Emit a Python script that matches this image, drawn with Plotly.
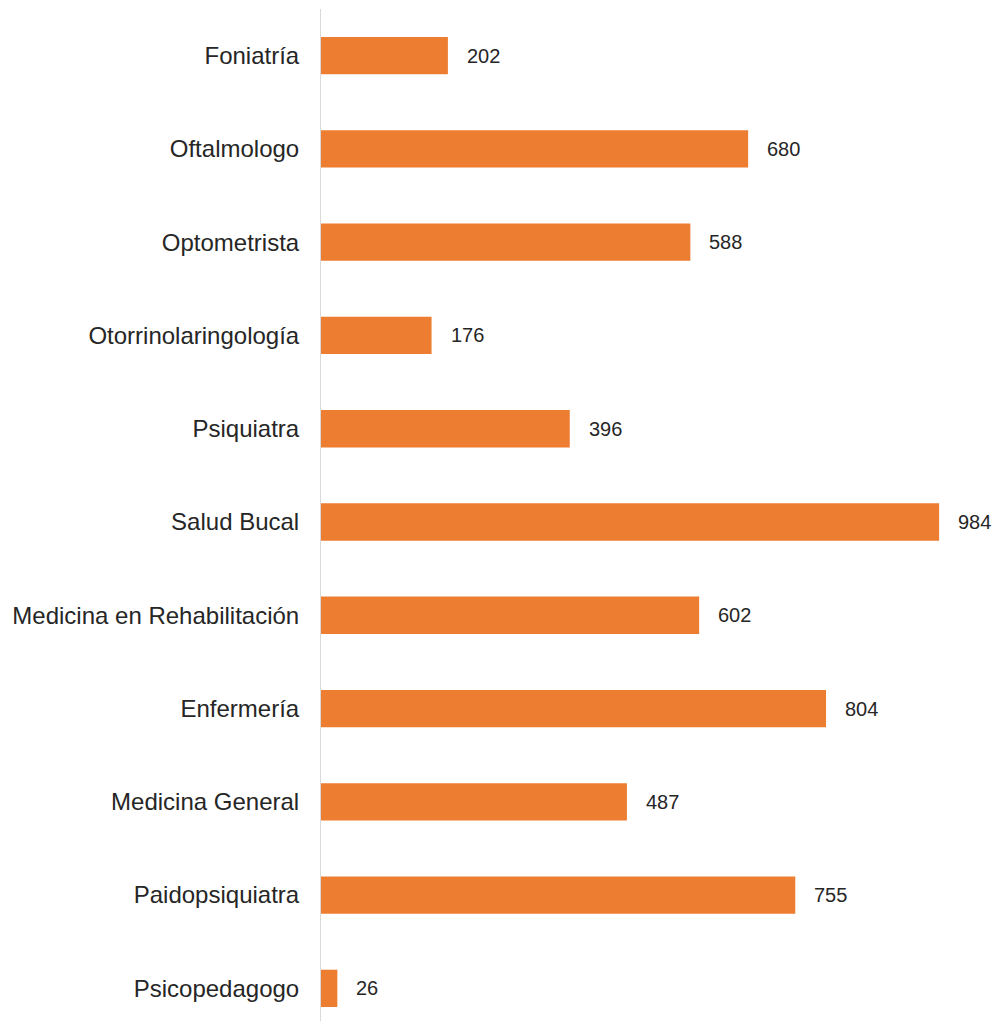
import plotly.graph_objects as go

categories = [
    "Foniatría",
    "Oftalmologo",
    "Optometrista",
    "Otorrinolaringología",
    "Psiquiatra",
    "Salud Bucal",
    "Medicina en Rehabilitación",
    "Enfermería",
    "Medicina General",
    "Paidopsiquiatra",
    "Psicopedagogo",
]
values = [202, 680, 588, 176, 396, 984, 602, 804, 487, 755, 26]

fig = go.Figure()

fig.add_trace(
    go.Bar(
        x=values,
        y=categories,
        orientation="h",
        marker=dict(color="#ED7D31", line=dict(width=0)),
        hoverinfo="x+y",
    )
)

# value labels sit a little right of each bar end
for cat, val in zip(categories, values):
    fig.add_annotation(
        x=val,
        y=cat,
        text=str(val),
        showarrow=False,
        xanchor="left",
        xshift=17,
        font=dict(size=20, color="#262626"),
    )

# page body has an 8px margin; keep the figure inside the window (no scrollbars)
fig.update_layout(
    width=992,
    height=1013,
    template="plotly_white",
    showlegend=False,
    bargap=0.6,
    margin=dict(l=313, r=10, t=1, b=0),
    font=dict(family="Liberation Sans, Arial, sans-serif", color="#262626"),
    paper_bgcolor="white",
    plot_bgcolor="white",
    xaxis=dict(
        visible=False,
        range=[0, 1065],
        showgrid=False,
        zeroline=False,
    ),
    yaxis=dict(
        type="category",
        categoryorder="array",
        categoryarray=categories,
        range=[10.35, -0.5],
        showgrid=False,
        zeroline=False,
        showline=True,
        linecolor="#D9D9D9",
        linewidth=1,
        ticks="",
        ticklabelstandoff=16,
        tickfont=dict(size=24, color="#262626"),
    ),
)

fig.write_html("out.html")
